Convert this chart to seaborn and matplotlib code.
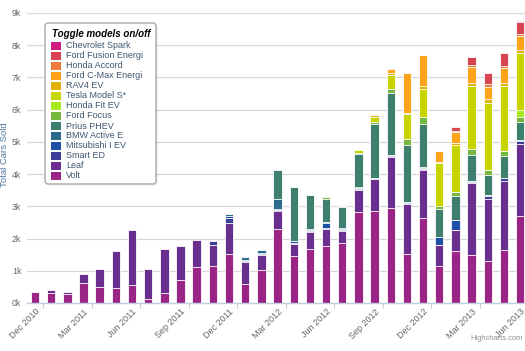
import matplotlib
matplotlib.use("Agg")
import matplotlib.pyplot as plt
from matplotlib.patches import FancyBboxPatch, Rectangle
from matplotlib.transforms import IdentityTransform
import pandas as pd
import seaborn as sns

# ---------------- data ----------------
months = ["Dec 2010", "Jan 2011", "Feb 2011", "Mar 2011", "Apr 2011", "May 2011", "Jun 2011",
          "Jul 2011", "Aug 2011", "Sep 2011", "Oct 2011", "Nov 2011", "Dec 2011", "Jan 2012",
          "Feb 2012", "Mar 2012", "Apr 2012", "May 2012", "Jun 2012", "Jul 2012", "Aug 2012",
          "Sep 2012", "Oct 2012", "Nov 2012", "Dec 2012", "Jan 2013", "Feb 2013", "Mar 2013",
          "Apr 2013", "May 2013", "Jun 2013"]

volt = [326, 321, 281, 608, 493, 481, 561, 125, 302, 723, 1108, 1139, 1529, 603, 1023, 2289,
        1462, 1680, 1760, 1849, 2831, 2851, 2961, 1519, 2633, 1140, 1626, 1490, 1306, 1645, 2698]
leaf = [19, 87, 67, 298, 573, 1142, 1708, 931, 1362, 1031, 848, 672, 954, 676, 478, 579,
        370, 510, 535, 395, 685, 984, 1579, 1539, 1489, 650, 653, 2236, 1937, 2138, 2225]
smart_ed = [0, 0, 0, 0, 0, 0, 0, 0, 0, 0, 0, 100, 150, 25, 25, 25,
            30, 40, 30, 30, 30, 20, 30, 30, 30, 0, 0, 30, 80, 90, 100]
mitsubishi = [0, 0, 0, 0, 0, 0, 0, 0, 0, 0, 0, 0, 76, 30, 30, 25,
              50, 40, 150, 30, 30, 20, 20, 40, 50, 257, 311, 30, 30, 20, 25]
bmw = [0, 0, 0, 0, 0, 0, 0, 0, 0, 0, 0, 0, 40, 100, 100, 310,
       20, 20, 50, 20, 10, 10, 0, 10, 10, 0, 0, 0, 0, 0, 0]
prius = [0, 0, 0, 0, 0, 0, 0, 0, 0, 0, 0, 0, 0, 0, 0, 913,
         1654, 1065, 696, 652, 1034, 1660, 1916, 1761, 1348, 860, 724, 798, 621, 674, 568]
focus = [0, 0, 0, 0, 0, 0, 0, 0, 0, 0, 0, 0, 0, 0, 0, 0,
         0, 0, 72, 20, 30, 70, 124, 177, 205, 102, 134, 186, 146, 155, 155]
fit_ev = [0, 0, 0, 0, 0, 0, 0, 0, 0, 0, 0, 0, 0, 0, 0, 0,
          0, 0, 0, 0, 0, 0, 0, 0, 0, 0, 0, 0, 0, 0, 230]
tesla = [0, 0, 0, 0, 0, 0, 0, 0, 0, 0, 0, 0, 0, 0, 0, 0,
         0, 0, 0, 0, 94, 160, 444, 776, 882, 1345, 1450, 1966, 2099, 2019, 1770]
rav4 = [0, 0, 0, 0, 0, 0, 0, 0, 0, 0, 0, 0, 0, 0, 0, 0,
        0, 0, 0, 0, 0, 50, 70, 50, 72, 30, 71, 102, 106, 102, 93]
cmax = [0, 0, 0, 0, 0, 0, 0, 0, 0, 0, 0, 0, 0, 0, 0, 0,
        0, 0, 0, 0, 0, 0, 115, 1242, 963, 332, 342, 497, 382, 435, 422]
accord = [0, 0, 0, 0, 0, 0, 0, 0, 0, 0, 0, 0, 0, 0, 0, 0,
          0, 0, 0, 0, 0, 0, 0, 0, 0, 0, 30, 52, 84, 84, 75]
fusion = [0, 0, 0, 0, 0, 0, 0, 0, 0, 0, 0, 0, 0, 0, 0, 0,
          0, 0, 0, 0, 0, 0, 0, 0, 0, 0, 110, 258, 360, 394, 360]
spark = [0, 0, 0, 0, 0, 0, 0, 0, 0, 0, 0, 0, 0, 0, 0, 0,
         0, 0, 0, 0, 0, 0, 0, 0, 0, 0, 0, 0, 0, 0, 27]

# stacking order, bottom -> top
series_names = ["Volt", "Leaf", "Smart ED", "Mitsubishi I EV", "BMW Active E", "Prius PHEV",
                "Ford Focus", "Honda Fit EV", "Tesla Model S*", "RAV4 EV", "Ford C-Max Energi",
                "Honda Accord", "Ford Fusion Energi", "Chevrolet Spark"]
series_values = [volt, leaf, smart_ed, mitsubishi, bmw, prius, focus, fit_ev, tesla, rav4,
                 cmax, accord, fusion, spark]
colors = ["#9a2587", "#6a2e8f", "#3b3d97", "#1e4fa6", "#2b6b8e", "#3f7f70", "#77b83e",
          "#a8e61d", "#c8d400", "#e0b400", "#ffa31a", "#ee7b3a", "#d94452", "#cf1a7f"]

y_ticks = [0, 1000, 2000, 3000, 4000, 5000, 6000, 7000, 8000, 9000]
y_ticklabels = ["0k", "1k", "2k", "3k", "4k", "5k", "6k", "7k", "8k", "9k"]

# ---------------- style ----------------
sns.set_theme(style="white")
plt.rcParams['font.family'] = ['Liberation Sans', 'DejaVu Sans']

W, H = 525, 351
fig = plt.figure(figsize=(W / 100, H / 100), dpi=100)
fig.patch.set_facecolor("white")

left_px, right_px, top_px, bottom_px = 26.9, 528.2, 13.0, 303.0
ax = fig.add_axes([left_px / W, 1 - bottom_px / H,
                   (right_px - left_px) / W, (bottom_px - top_px) / H])
ax.set_facecolor("white")

df = pd.DataFrame({n: v for n, v in zip(series_names, series_values)}, index=months)
cum = df.cumsum(axis=1)

# draw cumulative stacks from the top series down so each lower stack overlays
for k in reversed(range(len(series_names))):
    sns.barplot(x=months, y=cum[series_names[k]].values, order=months,
                color=colors[k], saturation=1, width=0.52,
                edgecolor="white", linewidth=0.6, errorbar=None, ax=ax)

ax.set_xlim(-0.5, len(months) - 0.5)
ax.set_ylim(0, 9000)
ax.set_xlabel("")
ax.set_ylabel("")
ax.set_axisbelow(True)
ax.yaxis.grid(True, color="#d8d8d8", linewidth=0.9)
ax.xaxis.grid(False)

ax.set_yticks(y_ticks)
ax.set_yticklabels(y_ticklabels)
ax.tick_params(axis="y", length=0, pad=4, labelsize=6.3, labelcolor="#666666")

xt = list(range(0, len(months), 3))
ax.set_xticks(xt)
ax.set_xticklabels([months[i] for i in xt], rotation=45, ha="right",
                   rotation_mode="anchor")
ax.set_xticks([i + 0.5 for i in xt], minor=True)
ax.tick_params(axis="x", which="major", bottom=True, length=0, pad=3,
               labelsize=6.5, labelcolor="#666666")
ax.tick_params(axis="x", which="minor", bottom=True, length=3.6, width=0.8,
               color="#c0d0e0")

for s in ["top", "right", "left"]:
    ax.spines[s].set_visible(False)
ax.spines["bottom"].set_color("#c0d0e0")
ax.spines["bottom"].set_linewidth(1.0)

# y axis title
fig.text(5 / W, 1 - 155 / H, "Total Cars Sold", rotation=90, ha="center", va="center",
         fontsize=6.8, color="#4d759e")

# credits
fig.text(523 / W, 1 - 339 / H, "Highcharts.com", ha="right", va="center",
         fontsize=5.4, color="#909090")

# ---------------- legend (Highcharts-like box) ----------------
def py(y):
    return H - y

bx0, by0, bx1, by1 = 45, 23, 156, 184
shadow = FancyBboxPatch((bx0 + 1.5, py(by1) - 1.5), bx1 - bx0, by1 - by0,
                        boxstyle="round,pad=0,rounding_size=3",
                        transform=IdentityTransform(), facecolor="#000000",
                        edgecolor="none", alpha=0.08, zorder=9)
fig.patches.append(shadow)
box = FancyBboxPatch((bx0, py(by1)), bx1 - bx0, by1 - by0,
                     boxstyle="round,pad=0,rounding_size=3",
                     transform=IdentityTransform(), facecolor="white",
                     edgecolor="#a0a0a0", linewidth=0.9, zorder=10)
fig.patches.append(box)

fig.text(52 / W, 1 - 34 / H, "Toggle models on/off", ha="left", va="center",
         fontsize=7, fontweight="bold", fontstyle="italic", color="#000000", zorder=11)

legend_order = list(reversed(range(len(series_names))))
for row, k in enumerate(legend_order):
    yc = 46 + 10 * row
    sw = Rectangle((51, py(yc) - 3.6), 10, 7.2, transform=IdentityTransform(),
                   facecolor=colors[k], edgecolor="none", zorder=11)
    fig.patches.append(sw)
    fig.text(66 / W, 1 - yc / H, series_names[k], ha="left", va="center",
             fontsize=6.5, color="#3e576f", zorder=11)

fig.savefig("out.png", dpi=100, facecolor="white")
